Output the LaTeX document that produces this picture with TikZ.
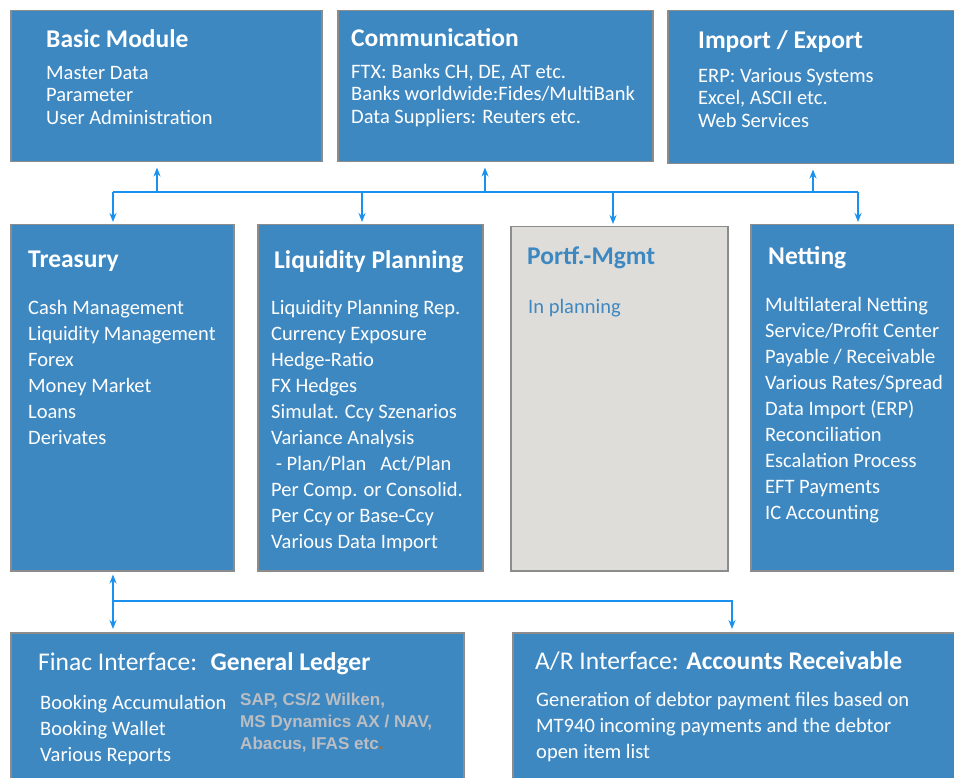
\documentclass[tikz,border=0pt]{standalone}
\usepackage{fontspec}
\setmainfont{Carlito}
\newfontfamily\arialfont{Liberation Sans}
\usetikzlibrary{arrows.meta,positioning}

\definecolor{modblue}{RGB}{62,136,194}
\definecolor{modedge}{RGB}{140,140,140}
\definecolor{planfill}{RGB}{222,221,217}
\definecolor{linkblue}{RGB}{25,145,240}
\definecolor{refgray}{RGB}{186,190,195}
\definecolor{dotbrown}{RGB}{170,110,30}

\tikzset{
  module/.style={draw=modedge, line width=1.5pt, fill=modblue, rectangle, anchor=north west, inner sep=0pt},
  title/.style={text=white, font=\fontsize{25.5}{30}\selectfont\bfseries, anchor=base west, inner sep=0pt},
  items/.style={text=white, font=\fontsize{20.5}{22.5}\selectfont, align=left, anchor=north west, inner sep=0pt},
  list/.style={items, font=\fontsize{20.5}{26}\selectfont},
  link/.style={draw=linkblue, line width=2pt},
  arr/.style={link, -{Stealth[length=9pt,width=7pt]}}
}

\begin{document}
\begin{tikzpicture}[x=1pt,y=-1pt]
\useasboundingbox (0,0) rectangle (954,778);
\clip (0,0) rectangle (954,778);

% top row
\node (basic)  [module, minimum width=311pt, minimum height=151pt] at (10,10) {};
\node (comm)   [module, minimum width=315pt, minimum height=151pt] at (337,10) {};
\node (impexp) [module, minimum width=300pt, minimum height=153pt] at (667,10) {};

% middle row
\node (treasury) [module, minimum width=223pt, minimum height=346pt] at (10,224) {};
\node (liqplan)  [module, minimum width=225pt, minimum height=346pt] at (257,224) {};
\node (portf)    [module, fill=planfill, minimum width=217pt, minimum height=344pt] at (510,226) {};
\node (netting)  [module, minimum width=210pt, minimum height=346pt] at (750,224) {};

% bottom row
\node (ledger) [module, minimum width=453pt, minimum height=160pt] at (10,632) {};
\node (receiv) [module, minimum width=450pt, minimum height=160pt] at (512,632) {};

% texts
\node (basicT) [title] at (46,48) {Basic Module};
\node (basicI) [items] at (46,66) {Master Data\\Parameter\\User Administration};
\node (commT) [title] at (351,47) {Communication};
\node (commI) [items] at (351,64) {FTX: Banks CH, DE, AT etc.\\Banks worldwide:Fides/MultiBank\\Data Suppliers: Reuters etc.};
\node (impexpT) [title] at (698,49) {Import / Export};
\node (impexpI) [items] at (698,68) {ERP: Various Systems\\Excel, ASCII etc.\\Web Services};

\node (treasuryT) [title] at (28,268) {Treasury};
\node (treasuryI) [list] at (28,300) {Cash Management\\Liquidity Management\\Forex\\Money Market\\Loans\\Derivates};
\node (liqplanT) [title] at (274,269) {Liquidity Planning};
\node (liqplanI) [list] at (271,300) {Liquidity Planning Rep.\\Currency Exposure\\Hedge-Ratio\\FX Hedges\\Simulat. Ccy Szenarios\\Variance Analysis\\ \ - Plan/Plan \ \ Act/Plan\\Per Comp. or Consolid.\\Per Ccy or Base-Ccy\\Various Data Import};
\node (portfT) [title, text=modblue] at (527,265) {Portf.-Mgmt};
\node (portfI) [list, text=modblue] at (528,299) {In planning};
\node (nettingT) [title] at (768,265) {Netting};
\node (nettingI) [list] at (765,297) {Multilateral Netting\\Service/Profit Center\\Payable / Receivable\\Various Rates/Spread\\Data Import (ERP)\\Reconciliation\\Escalation Process\\EFT Payments\\IC Accounting};

\node (ledgerT) [title, font=\fontsize{25.5}{30}\selectfont] at (38,670) {Finac Interface: \ \textbf{General Ledger}};
\node (ledgerI) [list] at (40,695) {Booking Accumulation\\Booking Wallet\\Various Reports};
\node (ledgerR) [items, text=refgray, font=\fontsize{17.1}{22}\selectfont\arialfont\bfseries] at (240,693) {SAP, CS/2 Wilken,\\MS Dynamics AX / NAV,\\Abacus, IFAS etc\textcolor{dotbrown}{.}};
\node (receivT) [title, font=\fontsize{25.5}{30}\selectfont] at (535,669) {A/R Interface: \textbf{Accounts Receivable}};
\node (receivI) [list] at (536,692) {Generation of debtor payment files based on\\MT940 incoming payments and the debtor\\open item list};

% upper links
\coordinate (busL) at (113,192);
\coordinate (busR) at (858,192);
\coordinate (upB) at (157,192);
\coordinate (upC) at (485,192);
\coordinate (upI) at (813,192);
\coordinate (dnL) at (362,192);
\coordinate (dnP) at (613,192);
\draw [link](busL)--(busR);
\draw [arr, shorten >=5pt](upB)--(upB |- basic.south);
\draw [arr, shorten >=5pt](upC)--(upC |- comm.south);
\draw [arr, shorten >=5pt](upI)--(upI |- impexp.south);
\draw [arr, shorten >=2pt](busL)--(busL |- treasury.north);
\draw [arr, shorten >=2pt](dnL)--(dnL |- liqplan.north);
\draw [arr, shorten >=2pt](dnP)--(dnP |- portf.north);
\draw [arr, shorten >=2pt](busR)--(busR |- netting.north);

% lower links
\coordinate (busG) at (113,601);
\coordinate (busA) at (732,601);
\draw [arr, shorten >=3pt](busG)--(busG |- treasury.south);
\draw [arr, shorten >=3pt](busG)--(busG |- ledger.north);
\draw [arr, shorten >=3pt](busG)--(busA)--(busA |- receiv.north);
\end{tikzpicture}
\end{document}
